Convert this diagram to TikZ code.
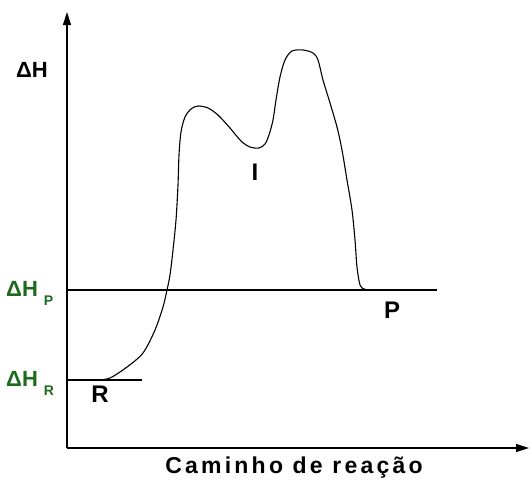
\documentclass[tikz,border=0pt]{standalone}
\usepackage{fontspec}
\setmainfont{Liberation Sans}
\newfontfamily\spacedfont[LetterSpace=14]{Liberation Sans}
\usepackage{xcolor}
\usepackage{tikz}
\usetikzlibrary{positioning,arrows.meta}
\definecolor{ink}{HTML}{000000}
\definecolor{levelgreen}{HTML}{1E6B1E}
\tikzset{
    axisline/.style={
        draw=ink, line width=1.4pt,
        -{Triangle[length=13pt,width=8pt]}
    },
    levelline/.style={draw=ink, line width=1.2pt},
    pathcurve/.style={draw=ink, line width=1.1pt, line join=round},
    axislabel/.style={
        font=\fontsize{22}{22}\selectfont\bfseries,
        text=ink, inner sep=0pt
    },
    levellabel/.style={
        font=\fontsize{22}{22}\selectfont\bfseries,
        text=levelgreen, inner sep=0pt, anchor=base west
    },
    statelabel/.style={
        font=\fontsize{24}{24}\selectfont\bfseries,
        text=ink, inner sep=0pt
    },
    captionlabel/.style={
        font=\spacedfont\fontsize{23}{23}\selectfont\bfseries,
        text=ink, inner sep=0pt
    },
}
\newcommand{\levelsub}[1]{\hspace{6pt}\raisebox{-9pt}{\fontsize{14}{14}\selectfont #1}}

\begin{document}
\begin{tikzpicture}[x=1pt, y=-1pt]
    \useasboundingbox (0,0) rectangle (530,482);
    % axes
    \coordinate (origin) at (67,448);
    \coordinate (ytop) at (67,12);
    \coordinate (xend) at (529,448);
    \draw[axisline] (origin) -- (ytop);
    \draw[axisline] (origin) -- (xend);
    % enthalpy levels
    \coordinate (rstart) at (67,380);
    \coordinate (rend) at (142,380);
    \coordinate (pstart) at (67,290);
    \coordinate (pend) at (437,290);
    \draw[levelline] (rstart) -- (rend);
    \draw[levelline] (pstart) -- (pend);
    % reaction path
    \draw[pathcurve] plot[smooth, tension=0.5] coordinates {
        (98,380) (110,378) (127,367) (143,353) (155,330) (163,307)
        (167,290) (170,275) (173,250) (176,220) (178,185) (179,155)
        (181,132) (185,117) (191,109) (198,106) (208,108) (218,115)
        (230,128) (241,141) (250,147) (259,148) (265,144) (269,135)
        (273,120) (276,100) (280,77) (285,60) (292,51) (303,50)
        (313,53) (318,60) (323,80) (330,103) (337,127) (342,150)
        (347,180) (352,210) (355,240) (357,267) (360,285) (364,289)
        (369,290)
    };
    % labels
    \node[axislabel] (hlabel) at (32,70) {ΔH};
    \node[levellabel] (hplabel) at (6,296) {ΔH\levelsub{P}};
    \node[levellabel] (hrlabel) at (6,386) {ΔH\levelsub{R}};
    \node[statelabel] (rlabel) at (100,394) {R};
    \node[statelabel] (ilabel) at (255,172) {I};
    \node[statelabel] (plabel) at (392,310) {P};
    \node[captionlabel] (caption) at (294,468) {Caminho de reação};
\end{tikzpicture}
\end{document}
